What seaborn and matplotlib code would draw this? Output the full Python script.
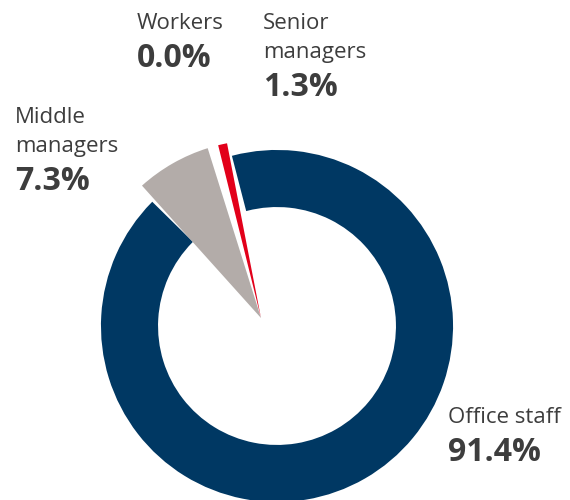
import matplotlib
matplotlib.use("Agg")
import matplotlib.pyplot as plt
import seaborn as sns

# Staff breakdown by category (share of headcount, %)
categories = ["Office staff", "Middle managers", "Workers", "Senior managers"]
shares = [91.4, 7.3, 0.0, 1.3]
label_lines = [["Office staff"], ["Middle", "managers"], ["Workers"], ["Senior", "managers"]]
colors = ["#003863", "#b3aca9", "#ffffff", "#e2001a"]

# label anchor (left x, baseline of first line) in pixel coords from top-left
label_pos = [(448, 423), (15, 123), (137, 29), (263, 29)]

sns.set_theme(style="white")
plt.rcParams['font.family'] = ['Open Sans', 'DejaVu Sans']
text_color = "#3d3d3d"

fig = plt.figure(figsize=(5.7, 5.0), dpi=100)
ax = fig.add_axes([0, 0, 1, 1])

# outer ring: office staff only
ring_colors = [colors[0], "none", "none", "none"]
ring, _ = ax.pie(shares, colors=ring_colors, radius=175, center=(277, 500 - 326),
                 startangle=104.5, counterclock=False, frame=True,
                 wedgeprops=dict(width=55, linewidth=0))
ring[0].set_edgecolor(colors[0])
ring[0].set_linewidth(1.5)

# the small groups drawn as full wedges from a point left of the ring centre
wedge_colors = ["none", colors[1], "none", colors[3]]
wedges, _ = ax.pie(shares, colors=wedge_colors, radius=178, center=(261, 500 - 318),
                   startangle=101, counterclock=False, frame=True,
                   wedgeprops=dict(linewidth=0))
# small angular gap between middle and senior managers
pad = 1.75
wedges[1].set_theta1(wedges[1].theta1 + pad)
wedges[3].set_theta2(wedges[3].theta2 - pad)

ax.set_xlim(0, 570)
ax.set_ylim(0, 500)
ax.set_aspect("equal")
ax.axis("off")

line_gap = 29
for lines, share, (x, y) in zip(label_lines, shares, label_pos):
    for i, line in enumerate(lines):
        ax.text(x, 500 - (y + i * line_gap), line, fontsize=16,
                color=text_color, ha="left", va="baseline")
    ax.text(x, 500 - (y + len(lines) * line_gap + 9), f"{share:.1f}%",
            fontsize=23, fontweight="bold", color=text_color,
            ha="left", va="baseline")

plt.savefig("out.png", dpi=100)
